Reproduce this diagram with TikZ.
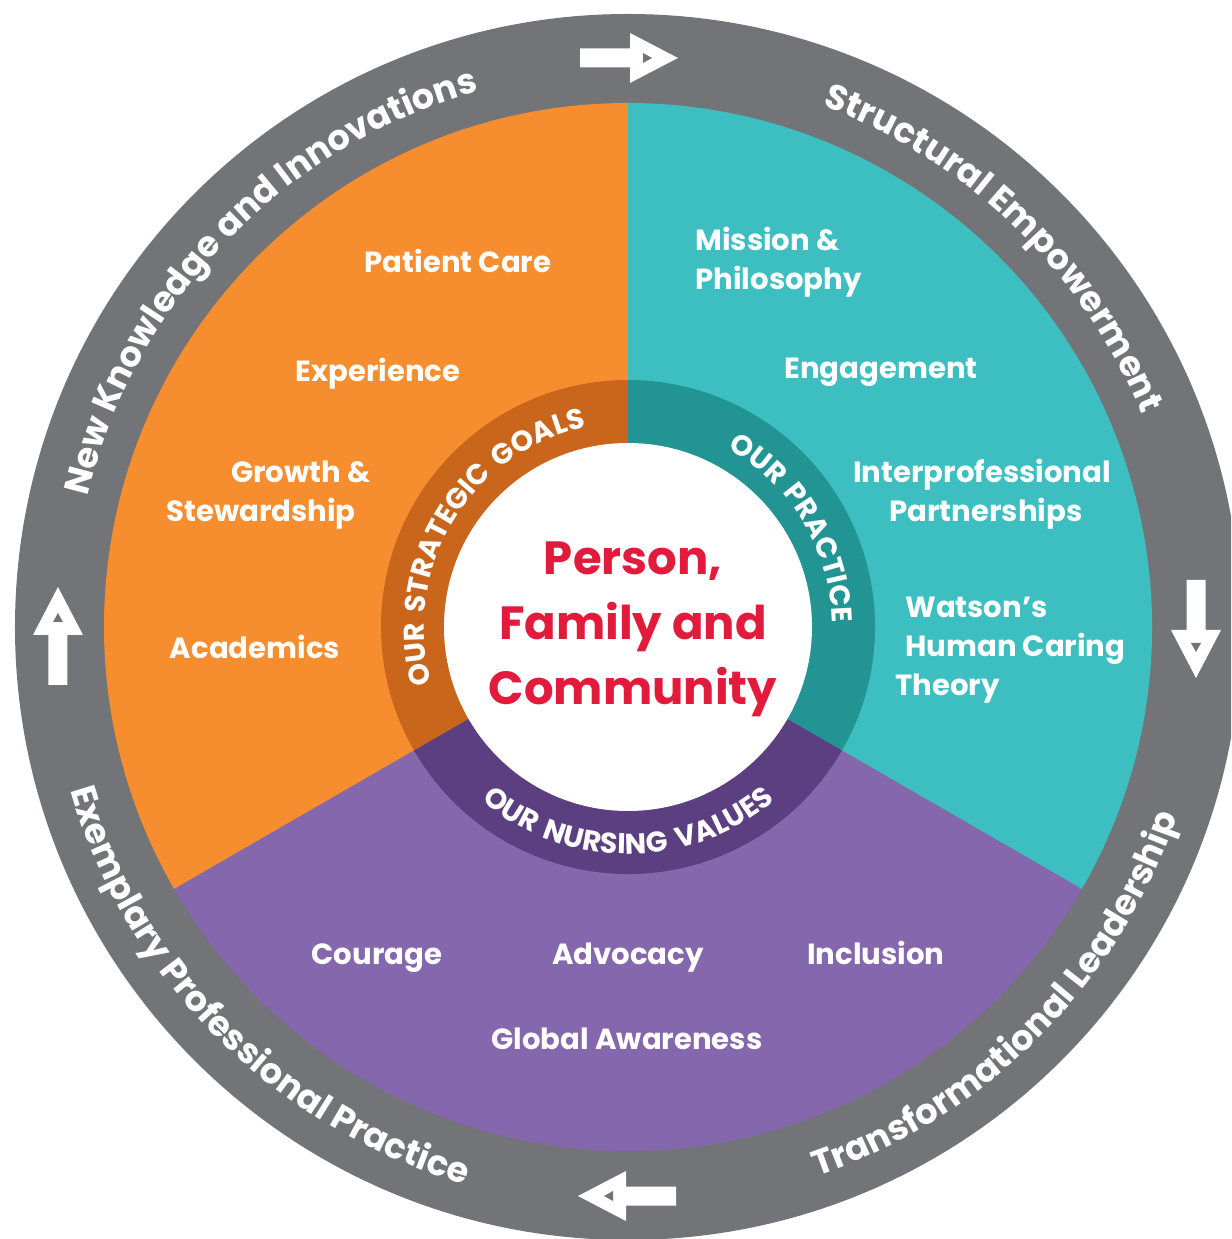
\documentclass[tikz,border=0pt]{standalone}
\usepackage{fontspec}
\setmainfont{Poppins}
\newfontfamily\innerfam{Poppins}[LetterSpace=12]
\usetikzlibrary{decorations.text}
\definecolor{ringgray}{HTML}{737477}
\definecolor{cOrange}{HTML}{F68D2E}
\definecolor{cTeal}{HTML}{3DBFC1}
\definecolor{cPurple}{HTML}{8567AE}
\definecolor{dOrange}{HTML}{C9661C}
\definecolor{dTeal}{HTML}{239494}
\definecolor{dPurple}{HTML}{5B3F80}
\definecolor{cRed}{HTML}{E21B3C}
\newcommand\labfont{\fontsize{16.6}{20}\selectfont\bfseries}
\newcommand\ctrfont{\fontsize{26.5}{32}\selectfont\bfseries}
\newcommand\ringfont{\fontsize{20}{24}\selectfont\bfseries}
\newcommand\innerfont{\innerfam\fontsize{16.3}{18}\selectfont\bfseries}
\tikzset{
  lbl/.style={text=white, font=\labfont, inner sep=0pt, anchor=base},
  lblw/.style={lbl, anchor=base west},
  ctr/.style={text=cRed, font=\ctrfont, inner sep=0pt, anchor=base},
  ringarrow/.pic={
    \fill[white] (-49,-9.5) -- (1,-9.5) -- (1,-25) -- (49,0) -- (1,25) -- (1,9.5) -- (-49,9.5) -- cycle;
    \fill[ringgray] (14,-5) -- (23,0) -- (14,5) -- cycle;
  },
  ringtext/.style={decorate, decoration={text along path, text={|\ringfont|#1}, text align=center, text color=white}},
  innertext/.style={decorate, decoration={text along path, text={|\innerfont|#1}, text align=center, text color=white}}
}
\begin{document}
\begin{tikzpicture}[x=0.02cm, y=0.02cm]
\useasboundingbox (-628,-612) rectangle (603,627);
\clip (-628,-612) rectangle (603,627);
% outer ring
\fill[ringgray] (0,0) circle[radius=613];
% sectors
\fill[cOrange] (0,0) -- (90:524) arc[start angle=90, end angle=210, radius=524] -- cycle;
\fill[cTeal] (0,0) -- (-30:524) arc[start angle=-30, end angle=90, radius=524] -- cycle;
\fill[cPurple] (0,0) -- (210:524) arc[start angle=210, end angle=330, radius=524] -- cycle;
% inner dark ring
\fill[dOrange] (0,0) -- (90:247) arc[start angle=90, end angle=210, radius=247] -- cycle;
\fill[dTeal] (0,0) -- (-30:247) arc[start angle=-30, end angle=90, radius=247] -- cycle;
\fill[dPurple] (0,0) -- (210:247) arc[start angle=210, end angle=330, radius=247] -- cycle;
\fill[white] (0,0) circle[radius=184];
% arrows
\pic at (1,569) {ringarrow};
\pic[rotate=-90] at (568,-2) {ringarrow};
\pic[rotate=180] at (-1,-569) {ringarrow};
\pic[rotate=90] at (-570,-9) {ringarrow};
% ring texts
\path[ringtext={New Knowledge and Innovations}] (206:556) arc[start angle=206, end angle=66, radius=556];
\path[ringtext={Structural Empowerment}] (116:556) arc[start angle=116, end angle=-24, radius=556];
\path[ringtext={Transformational Leadership}] (-115:581) arc[start angle=-115, end angle=25, radius=581];
\path[ringtext={Exemplary Professional Practice}] (155:581) arc[start angle=155, end angle=295, radius=581];
% inner ring texts
\path[innertext={OUR STRATEGIC GOALS}] (229:204) arc[start angle=229, end angle=69, radius=204];
\path[innertext={OUR PRACTICE}] (111:204) arc[start angle=111, end angle=-49, radius=204];
\path[innertext={OUR NURSING VALUES}] (190:227) arc[start angle=190, end angle=350, radius=227];
% center text
\node[ctr] (c1) at (5,52) {Person,};
\node[ctr] (c2) at (5,-13) {Family and};
\node[ctr] (c3) at (5,-78) {Community};
% orange labels
\node[lbl] (o1) at (-170,354) {Patient Care};
\node[lbl] (o2) at (-250,245) {Experience};
\node[lbl] (o3) at (-327,144) {Growth \&};
\node[lbl] (o4) at (-367,105) {Stewardship};
\node[lbl] (o5) at (-373,-32) {Academics};
% teal labels
\node[lblw] (t1) at (67,376) {Mission \&};
\node[lblw] (t2) at (67,337) {Philosophy};
\node[lbl] (t3) at (253,248) {Engagement};
\node[lbl] (t4) at (354,144) {Interprofessional};
\node[lbl] (t5) at (358,105) {Partnerships};
\node[lblw] (t6) at (277,9) {Watson’s};
\node[lblw] (t7) at (277,-30) {Human Caring};
\node[lblw] (t8) at (267,-69) {Theory};
% purple labels
\node[lbl] (p1) at (-251,-337) {Courage};
\node[lbl] (p2) at (0,-337) {Advocacy};
\node[lbl] (p3) at (248,-337) {Inclusion};
\node[lbl] (p4) at (-1,-422) {Global Awareness};
\end{tikzpicture}
\end{document}
